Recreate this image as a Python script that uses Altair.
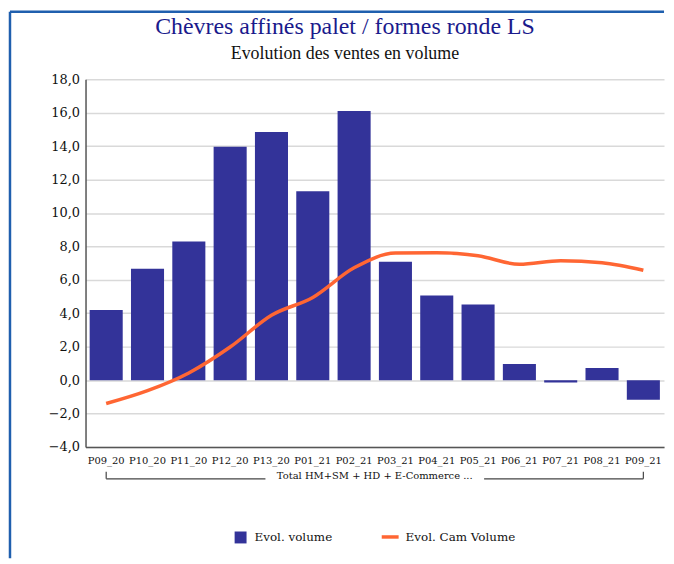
import altair as alt
import pandas as pd

categories = ["P09_20", "P10_20", "P11_20", "P12_20", "P13_20", "P01_21", "P02_21",
              "P03_21", "P04_21", "P05_21", "P06_21", "P07_21", "P08_21", "P09_21"]
evol_volume = [4.2, 6.66, 8.3, 13.96, 14.85, 11.3, 16.1, 7.08, 5.06, 4.53, 0.97, -0.14, 0.73, -1.17]
evol_cam = [-1.4, -0.63, 0.43, 1.98, 3.88, 4.95, 6.72, 7.6, 7.62, 7.44, 6.93, 7.14, 7.02, 6.57]
y_ticks = [-4, -2, 0, 2, 4, 6, 8, 10, 12, 14, 16, 18]
group_label = "Total HM+SM + HD + E-Commerce ..."
series_bar = "Evol. volume"
series_line = "Evol. Cam Volume"
title_text = "Chèvres affinés palet / formes ronde LS"
subtitle_text = "Evolution des ventes en volume"

W, H = 582, 370
SERIF = "DejaVu Serif"

df = pd.DataFrame({"cat": categories, "vol": evol_volume, "cam": evol_cam})

xscale = alt.Scale(domain=categories, paddingInner=0.2, paddingOuter=0.1)
yscale = alt.Scale(domain=[-4, 18], nice=False, zero=False)

xaxis = alt.Axis(title=None, labelAngle=0, ticks=False, labelPadding=9,
                 labelFont=SERIF, labelFontSize=10, labelColor="#111",
                 labelOverlap=False,
                 domainColor="#555", domainWidth=1.5, grid=False)
yaxis = alt.Axis(title=None, values=y_ticks, ticks=False,
                 labelExpr="replace(format(datum.value, '.1f'), '.', ',')",
                 labelFont=SERIF, labelFontSize=13, labelColor="#111", labelPadding=6,
                 labelOverlap=False,
                 domainColor="#555", domainWidth=1.5,
                 gridColor="#d9d9d9", gridWidth=1.5)

base = alt.Chart(df)

bars = base.transform_calculate(s1=f"'{series_bar}'").mark_bar(color="#333399").encode(
    x=alt.X("cat:N", scale=xscale, sort=categories, axis=xaxis),
    y=alt.Y("vol:Q", scale=yscale, axis=yaxis),
    color=alt.Color("s1:N", scale=alt.Scale(domain=[series_bar], range=["#333399"]),
                    legend=alt.Legend(orient="none", legendX=150, legendY=455, title=None,
                                      symbolType="square", symbolSize=144, symbolStrokeWidth=0,
                                      labelFont=SERIF, labelFontSize=12, labelColor="#111",
                                      padding=0, labelOffset=8)),
)

line = base.transform_calculate(s2=f"'{series_line}'").mark_line(
    interpolate="monotone", strokeWidth=3.5, color="#ff6633").encode(
    x=alt.X("cat:N", scale=xscale, sort=categories, axis=xaxis),
    y=alt.Y("cam:Q", scale=yscale, axis=yaxis),
    stroke=alt.Stroke("s2:N", scale=alt.Scale(domain=[series_line], range=["#ff6633"]),
                      legend=alt.Legend(orient="none", legendX=296, legendY=450, title=None,
                                        symbolType="stroke", symbolSize=289, symbolStrokeWidth=3.5,
                                        labelFont=SERIF, labelFontSize=12, labelColor="#111",
                                        padding=0, labelOffset=5)),
)

ends = pd.DataFrame({"a": [categories[0]], "b": [categories[-1]]})
bracket_y = H + 32
gap = 110
br_left = alt.Chart(ends).mark_rule(color="#444", strokeWidth=1.2).encode(
    x=alt.X("a:N", scale=xscale), x2=alt.value(W / 2 - gap), y=alt.value(bracket_y))
br_right = alt.Chart(ends).mark_rule(color="#444", strokeWidth=1.2).encode(
    x=alt.X("b:N", scale=xscale), x2=alt.value(W / 2 + gap), y=alt.value(bracket_y))
tick_l = alt.Chart(ends).mark_rule(color="#444", strokeWidth=1.2).encode(
    x=alt.X("a:N", scale=xscale), y=alt.value(bracket_y - 7), y2=alt.value(bracket_y))
tick_r = alt.Chart(ends).mark_rule(color="#444", strokeWidth=1.2).encode(
    x=alt.X("b:N", scale=xscale), y=alt.value(bracket_y - 7), y2=alt.value(bracket_y))
br_text = alt.Chart(pd.DataFrame({"t": [group_label]})).mark_text(
    font=SERIF, fontSize=10, color="#111", baseline="middle", align="center").encode(
    text="t:N", x=alt.value(W / 2), y=alt.value(bracket_y - 3))

titles = pd.DataFrame({"t": [title_text], "s": [subtitle_text]})
title_mark = alt.Chart(titles).mark_text(
    font="Liberation Serif", fontSize=24, color="#1a1a8c", baseline="alphabetic",
    align="center").encode(text="t:N", x=alt.value(261), y=alt.value(-46))
subtitle_mark = alt.Chart(titles).mark_text(
    font="Liberation Serif", fontSize=18, color="#111", baseline="alphabetic",
    align="center").encode(text="s:N", x=alt.value(261), y=alt.value(-20))

one = pd.DataFrame({"a": [0]})
border_left = alt.Chart(one).mark_rule(color="#1f5fae", strokeWidth=2.5).encode(
    x=alt.value(-76), y=alt.value(-68), y2=alt.value(H + 112))
border_top = alt.Chart(one).mark_rule(color="#1f5fae", strokeWidth=2.5).encode(
    x=alt.value(-76), x2=alt.value(W), y=alt.value(-68))

chart = alt.layer(bars, line, br_left, br_right, tick_l, tick_r, br_text,
                  title_mark, subtitle_mark, border_left, border_top).properties(
    width=W, height=H,
    padding={"left": 0, "top": 0, "right": 0, "bottom": 0},
).configure_view(stroke=None)

chart.save("out.html", embed_options={"renderer": "svg", "actions": False})
